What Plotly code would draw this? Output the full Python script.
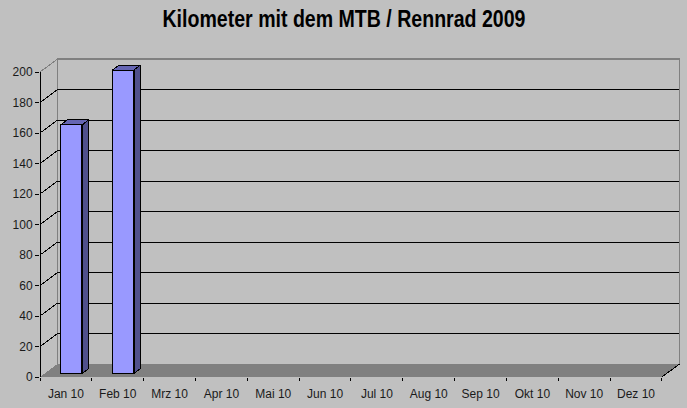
import plotly.graph_objects as go

months = ["Jan 10", "Feb 10", "Mrz 10", "Apr 10", "Mai 10", "Jun 10",
          "Jul 10", "Aug 10", "Sep 10", "Okt 10", "Nov 10", "Dez 10"]
km = [163, 199, None, None, None, None, None, None, None, None, None, None]
y_ticks = list(range(0, 201, 20))
title = "Kilometer mit dem MTB / Rennrad 2009"

BG = "#C0C0C0"
GRAY = "#808080"
W, H = 687, 408
ML, MR, MT, MB = 40, 0, 40, 31
px_x = 51.83
px_y = 1.525
x0 = -0.5
x1 = 11.5
DX = 17.5 / px_x      # wall depth, x units
DY = 13 / px_y        # wall depth, y units
BAR_W = 21.5 / px_x
BAR_SHIFT = 5.5 / px_x
BAR_LIFT = 3.5 / px_y
BAR_DX = 6.5 / px_x
BAR_DY = 5 / px_y


def poly_path(pts):
    return "M " + " L ".join(f"{a},{b}" for a, b in pts) + " Z"


shapes = []


def add_line(pts, color, width=1):
    shapes.append(dict(type="path", xref="x", yref="y", layer="below",
                       path="M " + " L ".join(f"{a},{b}" for a, b in pts),
                       line=dict(color=color, width=width)))


# floor
shapes.append(dict(type="path", xref="x", yref="y", layer="below",
                   path=poly_path([(x0, 0), (x1, 0), (x1 + DX, DY), (x0 + DX, DY)]),
                   fillcolor=GRAY, line=dict(width=0)))
# back wall outline
add_line([(x0 + DX, DY), (x0 + DX, 200 + DY), (x1 + DX, 200 + DY), (x1 + DX, DY)], GRAY, 1.5)
add_line([(x0, 200), (x0 + DX, 200 + DY)], GRAY, 1)
# gridlines
for v in y_ticks[1:-1]:
    add_line([(x0, v), (x0 + DX, v + DY), (x1 + DX, v + DY)], "black", 1)
add_line([(x1, 0), (x1 + DX, DY)], "black", 1)
# axis lines
add_line([(x0, 0), (x0, 200)], "black", 1)
add_line([(x0, 0), (x1, 0)], "black", 1)

fig = go.Figure()
xs = list(range(len(months)))
fig.add_trace(go.Bar(
    x=[i + BAR_SHIFT for i in xs], y=km, base=BAR_LIFT, width=BAR_W,
    marker=dict(color="#9999FF", line=dict(color="black", width=1)),
    hoverinfo="skip", showlegend=False))

for i, v in zip(xs, km):
    if v is None:
        continue
    left = i + BAR_SHIFT - BAR_W / 2
    right = i + BAR_SHIFT + BAR_W / 2
    bot = BAR_LIFT
    top = BAR_LIFT + v
    fig.add_trace(go.Scatter(
        x=[right, right + BAR_DX, right + BAR_DX, right, right],
        y=[bot, bot + BAR_DY, top + BAR_DY, top, bot],
        mode="lines", fill="toself", fillcolor="#50508C",
        line=dict(color="black", width=1), hoverinfo="skip", showlegend=False))
    fig.add_trace(go.Scatter(
        x=[left, left + BAR_DX, right + BAR_DX, right, left],
        y=[top, top + BAR_DY, top + BAR_DY, top, top],
        mode="lines", fill="toself", fillcolor="#6666B3",
        line=dict(color="black", width=1), hoverinfo="skip", showlegend=False))

fig.update_layout(
    width=W, height=H, autosize=False,
    paper_bgcolor=BG, plot_bgcolor=BG,
    margin=dict(l=ML, r=MR, t=MT, b=MB, pad=0),
    bargap=0, shapes=shapes, showlegend=False,
    title=dict(text=f"<b>{title}</b>", x=344 / W, xanchor="center", y=1 - 19 / H, yanchor="middle",
               font=dict(family="Liberation Sans", size=23, color="black")),
    xaxis=dict(range=[x0, x0 + (W - ML) / px_x], tickmode="array", tickvals=xs, ticktext=months,
               showgrid=False, zeroline=False, showline=False, ticks="", ticklen=0,
               ticklabelstandoff=8,
               tickfont=dict(family="Liberation Sans", size=12, color="#1a1a1a"),
               minor=dict(ticks="outside", tick0=x0, dtick=1, ticklen=3, tickcolor="black",
                          tickwidth=1, showgrid=False)),
    yaxis=dict(range=[0, (H - MB - MT) / px_y], tickmode="array", tickvals=y_ticks,
               showgrid=False, zeroline=False, showline=False,
               ticks="outside", ticklen=4, tickcolor="black", tickwidth=1,
               tickfont=dict(family="Liberation Sans", size=12, color="#1a1a1a")),
)
post = """
document.documentElement.style.margin='0';
document.body.style.margin='0';
document.body.style.background='#C0C0C0';
function fitTitle(){
  var t=document.querySelector('.gtitle');
  if(t){t.setAttribute('textLength','363');t.setAttribute('lengthAdjust','spacingAndGlyphs');}
  document.querySelectorAll('.shapelayer path, .scatterlayer path, .barlayer path').forEach(function(p){
    p.style.shapeRendering='crispEdges';
  });
}
fitTitle();
var gd=document.querySelector('.plotly-graph-div');
if(gd&&gd.on){gd.on('plotly_afterplot',fitTitle);}
"""
fig.write_html("out.html", config=dict(displayModeBar=False), post_script=post)
